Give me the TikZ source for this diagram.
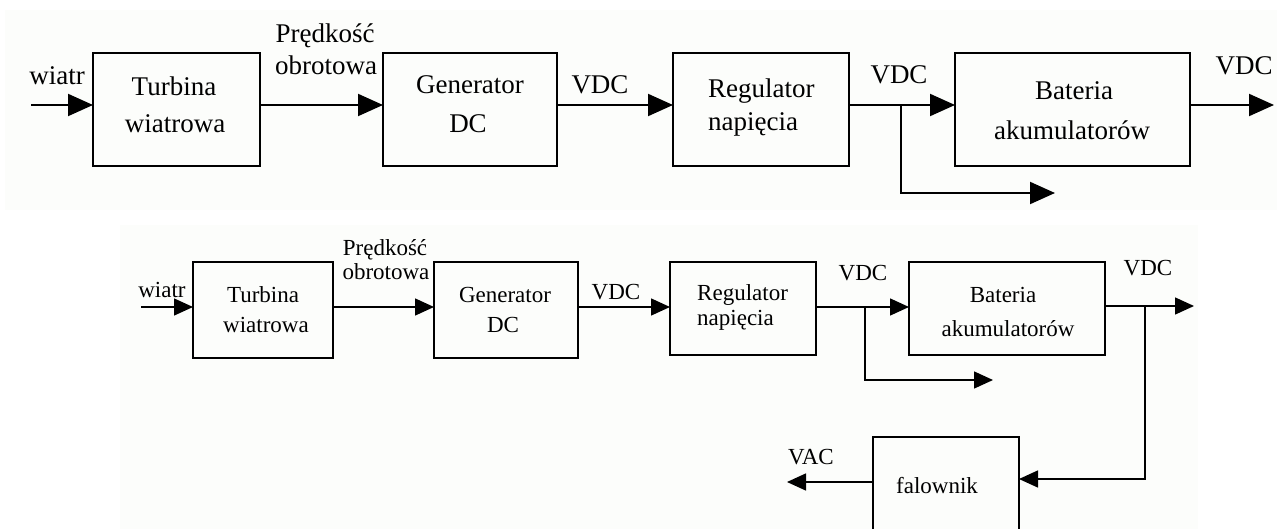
\documentclass[tikz,border=0pt]{standalone}
\usepackage{fontspec}
\setmainfont{Liberation Serif}
\usetikzlibrary{arrows.meta}
\definecolor{panelbg}{RGB}{252,253,251}
\begin{document}
\begin{tikzpicture}[x=1pt,y=-1pt,
  boxa/.style={draw, line width=2pt, inner sep=0pt, outer sep=0pt},
  boxb/.style={draw, line width=1.5pt, inner sep=0pt, outer sep=0pt},
  cona/.style={line width=2pt, -{Triangle[length=25pt,width=22pt]}},
  conb/.style={line width=1.5pt, -{Triangle[length=19pt,width=17pt]}},
  laba/.style={font=\fontsize{27}{30}\selectfont, inner sep=0pt, anchor=base},
  labb/.style={font=\fontsize{23}{26}\selectfont, inner sep=0pt, anchor=base}]
\useasboundingbox (0,0) rectangle (1277,529);
\clip (0,0) rectangle (1277,529);
% panels
\fill[white] (0,0) rectangle (1277,529);
\fill[panelbg] (5,10) rectangle (1277,210);
\fill[panelbg] (120,225) rectangle (1198,529);

% ---------- top diagram ----------
\node[boxa, minimum width=167pt, minimum height=113pt] (t1) at (176.5,109.5) {};
\node[boxa, minimum width=174pt, minimum height=113pt] (g1) at (470,109.5) {};
\node[boxa, minimum width=176pt, minimum height=113pt] (r1) at (761,109.5) {};
\node[boxa, minimum width=235pt, minimum height=113pt] (b1) at (1072.5,109.5) {};

\node[laba] (t1a) at (174,96) {Turbina};
\node[laba] (t1b) at (175,133) {wiatrowa};
\node[laba] (g1a) at (470,94) {Generator};
\node[laba] (g1b) at (468,133) {DC};
\node[laba, anchor=base west] (r1a) at (708,98) {Regulator};
\node[laba, anchor=base west] (r1b) at (708,131) {napięcia};
\node[laba] (b1a) at (1074,100) {Bateria};
\node[laba] (b1b) at (1072,140) {akumulatorów};

\node[laba] (w1l) at (57,85) {wiatr};
\node[laba] (p1a) at (325,43) {Prędkość};
\node[laba] (p1b) at (326,75) {obrotowa};
\node[laba] (v1) at (600,94) {VDC};
\node[laba] (v2) at (899,84) {VDC};
\node[laba] (v3) at (1244,75) {VDC};

\coordinate (w1) at (31,105);
\coordinate (j1) at (901,105);
\coordinate (o1) at (1055,193);
\coordinate (o2) at (1274,105);
\draw[cona] (w1) -- (t1.west |- w1);
\draw[cona] (t1.east |- w1) -- (g1.west |- w1);
\draw[cona] (g1.east |- w1) -- (r1.west |- w1);
\draw[cona] (r1.east |- w1) -- (b1.west |- w1);
\draw[cona] (j1) |- (o1);
\draw[cona] (b1.east |- w1) -- (o2);

% ---------- bottom diagram ----------
\node[boxb, minimum width=140pt, minimum height=96pt] (t2) at (263,310) {};
\node[boxb, minimum width=144pt, minimum height=96pt] (g2) at (506,310) {};
\node[boxb, minimum width=146pt, minimum height=93pt] (r2) at (743,308.5) {};
\node[boxb, minimum width=196pt, minimum height=93pt] (b2) at (1007,308.5) {};
\node[boxb, minimum width=146pt, minimum height=133pt] (f) at (946,503.5) {};

\node[labb] (t2a) at (263,302) {Turbina};
\node[labb] (t2b) at (266,332) {wiatrowa};
\node[labb] (g2a) at (505,302) {Generator};
\node[labb] (g2b) at (503,332) {DC};
\node[labb, anchor=base west] (r2a) at (697,301) {Regulator};
\node[labb, anchor=base west] (r2b) at (697,326) {napięcia};
\node[labb] (b2a) at (1003,302) {Bateria};
\node[labb] (b2b) at (1008,336) {akumulatorów};
\node[labb] (fa) at (937,493) {falownik};

\node[labb] (w2l) at (162,298) {wiatr};
\node[labb] (p2a) at (385,256) {Prędkość};
\node[labb] (p2b) at (386,280) {obrotowa};
\node[labb] (v4) at (616,300) {VDC};
\node[labb] (v5) at (863,281) {VDC};
\node[labb] (v6) at (1148,276) {VDC};
\node[labb] (vac) at (811,464) {VAC};

\coordinate (w2) at (141,307);
\coordinate (j2) at (865,307);
\coordinate (o3) at (993,380);
\coordinate (j3) at (1145,306);
\coordinate (o4) at (1194,306);
\coordinate (o5) at (787,482);
\draw[conb] (w2) -- (t2.west |- w2);
\draw[conb] (t2.east |- w2) -- (g2.west |- w2);
\draw[conb] (g2.east |- w2) -- (r2.west |- w2);
\draw[conb] (r2.east |- w2) -- (b2.west |- w2);
\draw[conb] (j2) |- (o3);
\draw[conb] (b2.east |- j3) -- (o4);
\draw[conb] (j3) |- (f.east |- 0,479);
\draw[conb] (f.west |- o5) -- (o5);
\end{tikzpicture}
\end{document}
